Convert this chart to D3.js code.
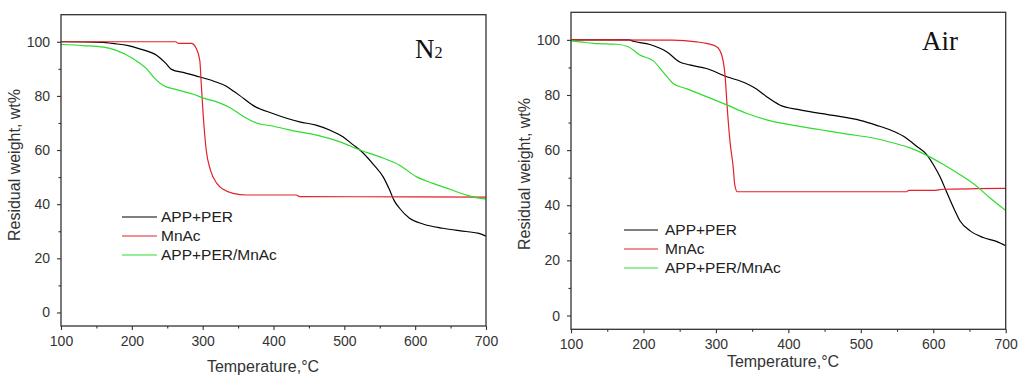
<!DOCTYPE html>
<html>
<head>
<meta charset="utf-8">
<style>
  body {
    margin: 0;
    background-color: #ffffff;
  }

  svg {
    display: block;
  }

  .tick-label {
    font-family: 'Liberation Sans', Arial, sans-serif;
    font-size: 14px;
    fill: #333;
  }

  .axis-title {
    font-family: 'Liberation Sans', Arial, sans-serif;
    font-size: 16px;
    fill: #333;
  }

  .legend-text {
    font-family: 'Liberation Sans', Arial, sans-serif;
    font-size: 15.5px;
    fill: #222;
  }

  .panel-title {
    font-family: 'Liberation Serif', 'Times New Roman', serif;
    fill: #111;
  }
</style>
  <script src="https://d3js.org/d3.v7.min.js"></script>
</head>
<body>
<script>
  // tick values shared by both panels
  const xTicks = [100, 200, 300, 400, 500, 600, 700];
  const xMinorTicks = [150, 250, 350, 450, 550, 650];
  const yTicks = [0, 20, 40, 60, 80, 100];
  const yMinorTicks = [10, 30, 50, 70, 90];

  const seriesNames = ['APP+PER', 'MnAc', 'APP+PER/MnAc'];

  const colors = {
    appPer: '#000000',
    mnAc: '#e4202a',
    appPerMnAc: '#2edc2e',
  };

  // N2 atmosphere, [temperature, residual weight]
  const n2AppPer = [
    [100, 100], [160, 99.8], [172, 99.4], [195, 98.6], [211, 97.4], [235, 95],
    [248, 92], [256, 89.8], [275, 88.5], [296, 87], [315, 85.5], [334, 83.5],
    [345, 81.5], [352, 80.2], [371, 76.5], [399, 73.5], [437, 70.4], [460, 69.2],
    [480, 67.3], [498, 64.9], [512, 62], [522, 60], [540, 55], [555, 50],
    [564, 45.2], [570, 41.5], [578, 38.5], [592, 34.8], [611, 32.7], [639, 31.1],
    [672, 29.9], [690, 29.2], [700, 28.2],
  ];

  const n2MnAc = [
    [100, 100], [262, 100], [266, 99.4], [284, 99.4], [291, 97.5], [296, 93],
    [298, 84.5], [301, 72], [305, 60], [311, 52.6], [320, 47.7], [329, 45.5],
    [343, 44], [362, 43.4], [432, 43.4], [437, 42.8], [600, 42.7], [700, 42.6],
  ];

  const n2AppPerMnAc = [
    [100, 99], [131, 98.6], [160, 98], [178, 96.8], [202, 93.7], [221, 90],
    [233, 86.3], [244, 83.9], [263, 82.3], [287, 80.6], [301, 79.2], [320, 77.8],
    [338, 75.7], [357, 72.5], [376, 70], [400, 68.8], [428, 67.1], [461, 65.5],
    [494, 63], [522, 60], [550, 57.5], [578, 54.4], [602, 50.1], [625, 47.7],
    [649, 45.5], [672, 43.4], [688, 42.3], [700, 41.9],
  ];

  // Air atmosphere, [temperature, residual weight]
  const airAppPer = [
    [100, 100], [180, 100], [186, 99.5], [209, 98.3], [232, 95.7], [250, 92],
    [264, 90.9], [287, 89.6], [315, 86.6], [342, 84.2], [356, 82.2], [370, 79.4],
    [388, 76.4], [416, 74.6], [462, 72.6], [499, 70.8], [522, 69], [540, 67.4],
    [559, 65], [577, 61.4], [591, 58.4], [600, 54.8], [609, 50.5], [618, 45.1],
    [628, 39.1], [637, 34.3], [651, 30.7], [669, 28.3], [688, 26.8], [700, 25.3],
  ];

  const airMnAc = [
    [100, 100], [240, 99.9], [273, 99.3], [287, 98.7], [301, 97.5], [308, 94.5],
    [312.6, 87.2], [316, 74], [319.5, 63], [324, 53.5], [326, 47.5], [329.6, 44.9],
    [563, 44.9], [566, 45.4], [600, 45.4], [614, 45.8], [660, 46], [700, 46.1],
  ];

  const airAppPerMnAc = [
    [100, 99.6], [112, 99.3], [131, 98.7], [163, 98.4], [179, 97.5], [195, 94.5],
    [214, 92.3], [227, 88.4], [241, 84.2], [260, 82.2], [287, 79.4], [315, 76.4],
    [342, 73.4], [370, 71], [407, 69], [444, 67.4], [481, 65.8], [517, 64.4],
    [545, 62.6], [568, 60.8], [591, 58.1], [614, 54.8], [637, 51.1], [660, 46.9],
    [678, 42.7], [700, 38.1],
  ];

  const width = 1020;
  const height = 379;

  const svg = d3.select('body')
    .append('svg')
    .attr('width', width)
    .attr('height', height);

  const drawPanel = (panel) => {
    const x = d3.scaleLinear().domain([100, 700]).range([panel.left, panel.right]);
    const y = d3.scaleLinear().domain([-5, 110]).range([panel.bottom, panel.top]);

    const g = svg.append('g');

    // curves first, frame drawn on top
    const line = d3.line()
      .x(d => x(d[0]))
      .y(d => y(d[1]))
      .curve(d3.curveMonotoneX);

    panel.series.forEach((s) => {
      g.append('path')
        .datum(s.values)
        .attr('fill', 'none')
        .attr('stroke', s.color)
        .attr('stroke-width', 1.2)
        .attr('d', line);
    });

    // frame
    g.append('rect')
      .attr('x', panel.left)
      .attr('y', panel.top)
      .attr('width', panel.right - panel.left)
      .attr('height', panel.bottom - panel.top)
      .attr('fill', 'none')
      .attr('stroke', '#333')
      .attr('stroke-width', 1.3);

    const styleAxis = (axisG) => {
      axisG.select('.domain').remove();
      axisG.selectAll('line').attr('stroke', '#333').attr('stroke-width', 1.1);
      axisG.selectAll('text').attr('class', 'tick-label').attr('fill', null);
      axisG.attr('font-family', null).attr('font-size', null);
    };

    g.append('g')
      .attr('transform', `translate(0,${panel.bottom})`)
      .call(d3.axisBottom(x).tickValues(xTicks).tickSize(4).tickPadding(6).tickFormat(d3.format('d')))
      .call(styleAxis);

    g.append('g')
      .attr('transform', `translate(0,${panel.bottom})`)
      .call(d3.axisBottom(x).tickValues(xMinorTicks).tickSize(2.5).tickFormat(''))
      .call(styleAxis);

    g.append('g')
      .attr('transform', `translate(${panel.left},0)`)
      .call(d3.axisLeft(y).tickValues(yTicks).tickSize(4).tickPadding(7).tickFormat(d3.format('d')))
      .call(styleAxis);

    g.append('g')
      .attr('transform', `translate(${panel.left},0)`)
      .call(d3.axisLeft(y).tickValues(yMinorTicks).tickSize(2.5).tickFormat(''))
      .call(styleAxis);

    // axis titles
    g.append('text')
      .attr('class', 'axis-title')
      .attr('x', panel.xTitle.x)
      .attr('y', panel.xTitle.y)
      .attr('text-anchor', 'middle')
      .text('Temperature,°C');

    g.append('text')
      .attr('class', 'axis-title')
      .attr('transform', `translate(${panel.yTitle.x},${panel.yTitle.y}) rotate(-90)`)
      .attr('text-anchor', 'middle')
      .text('Residual weight, wt%');

    // legend
    panel.series.forEach((s, i) => {
      const ly = panel.legend.y + i * panel.legend.step;
      g.append('line')
        .attr('x1', panel.legend.x1)
        .attr('x2', panel.legend.x2)
        .attr('y1', ly)
        .attr('y2', ly)
        .attr('stroke', s.color)
        .attr('stroke-width', 1.2);
      g.append('text')
        .attr('class', 'legend-text')
        .attr('x', panel.legend.tx)
        .attr('y', ly)
        .attr('dy', '0.35em')
        .text(s.name);
    });

    // atmosphere label
    const label = g.append('text')
      .attr('class', 'panel-title')
      .attr('x', panel.label.x)
      .attr('y', panel.label.y)
      .style('font-size', panel.label.size + 'px');
    label.append('tspan').text(panel.label.main);
    if (panel.label.sub) {
      label.append('tspan')
        .style('font-size', (panel.label.size * 0.6) + 'px')
        .text(panel.label.sub);
    }
  };

  drawPanel({
    left: 61,
    right: 486,
    top: 14.7,
    bottom: 326,
    series: [
      { name: seriesNames[0], values: n2AppPer, color: colors.appPer },
      { name: seriesNames[1], values: n2MnAc, color: colors.mnAc },
      { name: seriesNames[2], values: n2AppPerMnAc, color: colors.appPerMnAc },
    ],
    xTitle: { x: 263, y: 372 },
    yTitle: { x: 20, y: 165 },
    legend: { x1: 122, x2: 157, tx: 161, y: 217, step: 19 },
    label: { x: 415, y: 58, size: 27, main: 'N', sub: '2' },
  });

  drawPanel({
    left: 571,
    right: 1005.7,
    top: 12.3,
    bottom: 329.3,
    series: [
      { name: seriesNames[0], values: airAppPer, color: colors.appPer },
      { name: seriesNames[1], values: airMnAc, color: colors.mnAc },
      { name: seriesNames[2], values: airAppPerMnAc, color: colors.appPerMnAc },
    ],
    xTitle: { x: 783, y: 367 },
    yTitle: { x: 530, y: 174 },
    legend: { x1: 624, x2: 658, tx: 665, y: 230, step: 19 },
    label: { x: 922, y: 50, size: 27, main: 'Air' },
  });
</script>
</body>
</html>
